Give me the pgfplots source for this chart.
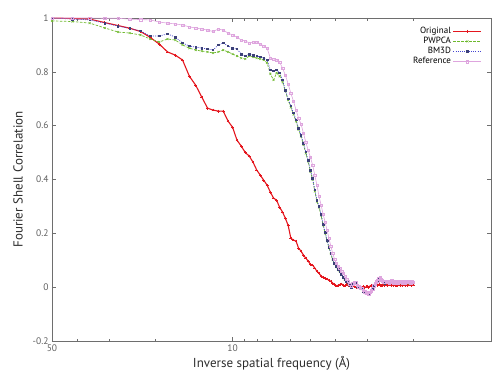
\documentclass[border=0pt]{standalone}
\usepackage{pgfplots}
\pgfplotsset{compat=1.18}
\usepackage{pgfplotstable}
\usepackage{fontspec}
\setmainfont{PT Sans}
\definecolor{axisgray}{RGB}{110,110,110}
\definecolor{ticktext}{RGB}{95,95,95}
\definecolor{labeltext}{RGB}{45,45,45}
\definecolor{cred}{RGB}{228,22,30}
\definecolor{cgreen}{RGB}{110,185,45}
\definecolor{cblue}{RGB}{70,70,210}
\definecolor{cnavy}{RGB}{60,65,120}
\definecolor{cpink}{RGB}{222,165,222}

\pgfplotstableread{
k o p b r
5 1.000 0.989 1.000 1.000
6 0.998 0.987 0.996 1.000
7 0.996 0.981 0.993 1.000
8 0.983 0.963 0.981 0.999
9 0.972 0.948 0.970 0.999
10 0.962 0.944 0.961 0.996
11 0.950 0.937 0.952 0.994
12 0.928 0.922 0.933 0.993
13 0.903 0.911 0.933 0.985
14 0.874 0.922 0.941 0.981
15 0.862 0.918 0.929 0.978
16 0.844 0.900 0.907 0.974
17 0.784 0.888 0.896 0.967
18 0.750 0.881 0.892 0.963
19 0.706 0.877 0.888 0.959
20 0.665 0.874 0.885 0.955
21 0.658 0.870 0.881 0.950
22 0.654 0.874 0.900 0.959
23 0.654 0.881 0.907 0.955
24 0.617 0.874 0.896 0.944
25 0.594 0.866 0.888 0.937
26 0.546 0.859 0.885 0.929
27 0.524 0.851 0.866 0.918
28 0.500 0.848 0.859 0.915
29 0.487 0.859 0.866 0.907
30 0.464 0.855 0.862 0.911
31 0.435 0.851 0.859 0.911
32 0.416 0.848 0.855 0.903
33 0.397 0.844 0.851 0.896
34 0.379 0.833 0.844 0.888
35 0.353 0.792 0.807 0.851
36 0.331 0.770 0.803 0.848
37 0.323 0.796 0.807 0.844
38 0.297 0.784 0.796 0.836
39 0.279 0.762 0.770 0.814
40 0.256 0.729 0.732 0.788
41 0.230 0.695 0.699 0.755
42 0.182 0.668 0.673 0.721
43 0.175 0.642 0.647 0.691
44 0.171 0.616 0.621 0.658
45 0.145 0.586 0.591 0.628
46 0.134 0.560 0.565 0.606
47 0.119 0.530 0.535 0.572
48 0.108 0.497 0.502 0.539
49 0.097 0.467 0.472 0.509
50 0.085 0.430 0.435 0.483
51 0.082 0.400 0.405 0.454
52 0.071 0.356 0.361 0.416
53 0.059 0.318 0.323 0.379
54 0.052 0.296 0.301 0.338
55 0.041 0.266 0.271 0.305
56 0.037 0.230 0.234 0.271
57 0.033 0.200 0.204 0.242
58 0.030 0.171 0.175 0.212
59 0.026 0.146 0.149 0.182
60 0.022 0.123 0.126 0.152
61 0.015 0.101 0.104 0.126
62 0.011 0.086 0.089 0.104
63 0.004 0.075 0.078 0.089
64 0.007 0.064 0.067 0.078
65 0.010 0.056 0.059 0.071
66 0.012 0.045 0.048 0.059
67 0.008 0.034 0.037 0.052
68 0.005 0.027 0.030 0.041
69 0.009 0.019 0.022 0.030
70 0.006 0.014 0.017 0.022
71 0.004 0.005 0.007 0.012
72 0.008 -0.002 0.000 0.004
73 0.005 0.008 0.011 0.013
74 0.002 0.012 0.015 0.017
75 0.000 0.012 0.015 0.016
76 -0.002 0.002 0.004 0.007
77 0.001 -0.003 0.000 0.002
78 -0.003 -0.006 -0.004 -0.002
79 0.000 -0.007 -0.004 -0.003
80 0.002 -0.017 -0.015 -0.012
81 -0.002 -0.021 -0.019 -0.017
82 0.001 -0.024 -0.022 -0.020
83 0.003 -0.024 -0.022 -0.021
84 0.000 -0.027 -0.026 -0.024
85 0.004 -0.021 -0.019 -0.018
86 0.006 -0.017 -0.015 -0.013
87 0.004 -0.009 -0.007 -0.005
88 0.008 0.002 0.004 0.006
89 0.006 0.009 0.011 0.013
90 0.009 0.016 0.019 0.021
91 0.007 0.020 0.022 0.024
92 0.010 0.027 0.030 0.031
93 0.008 0.030 0.033 0.035
94 0.005 0.024 0.026 0.028
95 0.009 0.020 0.022 0.024
96 0.011 0.017 0.019 0.021
97 0.007 0.013 0.015 0.018
98 0.010 0.017 0.019 0.021
99 0.006 0.020 0.022 0.023
100 0.009 0.017 0.019 0.022
101 0.012 0.013 0.015 0.017
102 0.008 0.017 0.019 0.020
103 0.006 0.020 0.022 0.024
104 0.010 0.017 0.019 0.021
105 0.007 0.013 0.015 0.017
106 0.011 0.016 0.018 0.020
107 0.008 0.019 0.021 0.023
108 0.005 0.015 0.017 0.019
109 0.009 0.012 0.014 0.016
110 0.012 0.017 0.019 0.021
111 0.007 0.020 0.022 0.023
112 0.010 0.016 0.018 0.020
113 0.006 0.013 0.015 0.017
114 0.009 0.018 0.020 0.022
115 0.011 0.015 0.017 0.019
116 0.007 0.012 0.014 0.016
117 0.010 0.017 0.019 0.021
118 0.008 0.019 0.021 0.022
119 0.006 0.014 0.016 0.018
120 0.010 0.016 0.018 0.020
121 0.008 0.018 0.020 0.021
122 0.011 0.013 0.015 0.017
123 0.007 0.016 0.018 0.020
124 0.009 0.019 0.021 0.022
125 0.008 0.015 0.017 0.019
}\fsc

\begin{document}
\begin{tikzpicture}
\begin{axis}[
  scale only axis, width=439pt, height=323pt,
  xmode=log, x dir=reverse, xmin=1, xmax=50,
  ymin=-0.2, ymax=1,
  xtick={50,10}, xticklabels={50,10},
  minor xtick={40,30,20,9,8,7,6,5,4,3,2},
  ytick={-0.2,0,0.2,0.4,0.6,0.8,1},
  yticklabels={-0.2,0,0.2,0.4,0.6,0.8,1},
  tick align=inside,
  major tick length=4pt, minor tick length=2.5pt,
  axis line style={draw=axisgray, line width=0.8pt},
  every tick/.style={axisgray, line width=0.6pt},
  tick label style={font=\fontsize{9.5}{11}\selectfont, text=ticktext},
  xlabel={Inverse spatial frequency (Å)},
  ylabel={Fourier Shell Correlation},
  xlabel style={at={(axis description cs:0.5,-0.068)}, anchor=center, font=\fontsize{13}{15}\selectfont, text=labeltext},
  ylabel style={at={(axis description cs:-0.0775,0.5)}, anchor=center, font=\fontsize{13}{15}\selectfont, text=labeltext},
  legend style={draw=none, fill=none, at={(axis description cs:0.98,0.978)}, anchor=north east,
    font=\fontsize{9}{10}\selectfont, inner sep=0pt, row sep=-1.8pt},
  legend cell align=right, legend plot pos=right,
  legend image code/.code={\draw[mark repeat=2,mark phase=2,#1] plot coordinates {(0pt,0pt) (14pt,0pt) (28pt,0pt)};},
]
\coordinate (SW) at (rel axis cs:0,0);
\addplot[color=cred, line width=1.1pt, mark=+, mark size=1.4pt, mark options={line width=0.6pt}]
  table[x expr=250/\thisrow{k}, y=o]{\fsc};
\addlegendentry{Original}
\addplot[color=cgreen, line width=0.7pt, dash pattern=on 2.5pt off 1.5pt, mark=x, mark size=1.4pt, mark options={solid, line width=0.45pt}]
  table[x expr=250/\thisrow{k}, y=p]{\fsc};
\addlegendentry{PWPCA}
\addplot[color=cblue, line width=0.7pt, dash pattern=on 1pt off 1.2pt, mark=square*, mark size=0.8pt, mark options={solid, draw=cnavy, fill=cnavy}]
  table[x expr=250/\thisrow{k}, y=b]{\fsc};
\addlegendentry{BM3D}
\addplot[color=cpink, line width=0.6pt, mark=square, mark size=1.2pt, mark options={solid, line width=0.35pt}]
  table[x expr=250/\thisrow{k}, y=r]{\fsc};
\addlegendentry{Reference}
\end{axis}
\pgfresetboundingbox
\useasboundingbox ([xshift=-52pt,yshift=-32pt]SW) rectangle ++(493pt,373pt);
\end{tikzpicture}
\end{document}
